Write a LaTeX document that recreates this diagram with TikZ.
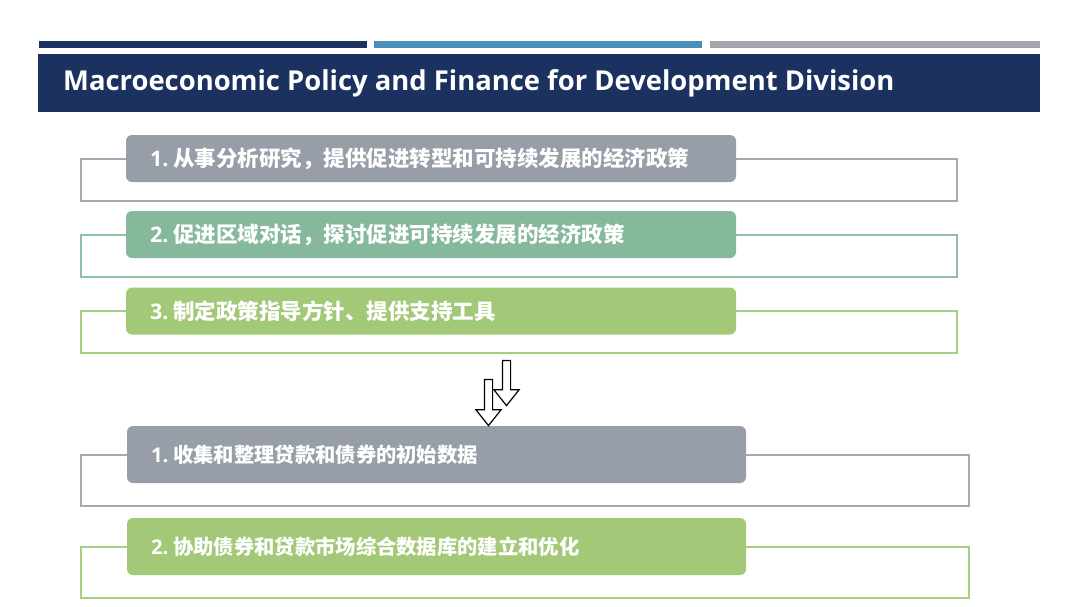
\documentclass[tikz,border=0pt]{standalone}
\usepackage{fontspec}
\setmainfont{Open Sans}
\newfontfamily\cjk{Noto Sans CJK SC}
\usetikzlibrary{shapes.arrows}
\definecolor{navy}{HTML}{1B3160}
\definecolor{steel}{HTML}{4A8FBB}
\definecolor{bargray}{HTML}{A3A6AB}
\definecolor{pillgray}{HTML}{979EA8}
\definecolor{pillteal}{HTML}{86B99B}
\definecolor{pilllime}{HTML}{A3C878}
\definecolor{linegray}{HTML}{A3AAB3}
\definecolor{lineteal}{HTML}{8EC1A2}
\definecolor{linelime}{HTML}{A9CD82}
\newcommand{\itemno}[1]{{\normalfont\bfseries #1}\hspace{5pt}}
\begin{document}
\begin{tikzpicture}[x=1pt, y=-1pt, inner sep=0pt]
    \tikzstyle{bar_style} = [draw=none, anchor=north west, minimum height=7pt]
    \tikzstyle{pill_style} = [rounded corners=6pt, anchor=center, inner xsep=24pt, align=left,
                              text=white, font=\cjk\bfseries\fontsize{21.5}{24}\selectfont]
    \tikzstyle{pill_small} = [pill_style, font=\cjk\bfseries\fontsize{20.3}{24}\selectfont]
    \tikzstyle{frame_style} = [line width=2pt]
    \tikzstyle{arrow_style} = [single arrow, draw=black, fill=white, line width=1.2pt, rotate=-90,
                               minimum height=45pt, minimum width=24pt, inner sep=3.5pt,
                               single arrow head extend=8.5pt, single arrow tip angle=77]
    \useasboundingbox (0,0) rectangle (1080,606);
    \fill[white] (0,0) rectangle (1080,606);

    % header
    \node[bar_style, fill=navy, minimum width=328pt] (bar1) at (39,41) {};
    \node[bar_style, fill=steel, minimum width=328pt] (bar2) at (374,41) {};
    \node[bar_style, fill=bargray, minimum width=330pt] (bar3) at (710,41) {};
    \node[fill=navy, anchor=north west, minimum width=1002pt, minimum height=58pt] (title) at (38,54) {};
    \node[anchor=west, text=white, font=\bfseries\fontsize{27.4}{32}\selectfont] (titletext) at (63,83)
        {Macroeconomic Policy and Finance for Development Division};

    % pills
    \node[pill_style, fill=pillgray, text width=562pt, minimum height=47pt] (task1) at (431,158.5)
        {\itemno{1.}从事分析研究，提供促进转型和可持续发展的经济政策};
    \node[pill_style, fill=pillteal, text width=562pt, minimum height=47pt] (task2) at (431,234.5)
        {\itemno{2.}促进区域对话，探讨促进可持续发展的经济政策};
    \node[pill_style, fill=pilllime, text width=562pt, minimum height=47pt] (task3) at (431,311)
        {\itemno{3.}制定政策指导方针、提供支持工具};
    \node[pill_small, fill=pillgray, text width=571pt, minimum height=57pt] (data1) at (436.5,454.5)
        {\itemno{1.}收集和整理贷款和债券的初始数据};
    \node[pill_small, fill=pilllime, text width=571pt, minimum height=57pt] (data2) at (436.5,546.5)
        {\itemno{2.}协助债券和贷款市场综合数据库的建立和优化};

    % frames
    \draw[frame_style, draw=linegray] (task1.west) -- ++(-45,0) -- ++(0,42) -- ++(876,0) -- ++(0,-42) -- (task1.east);
    \draw[frame_style, draw=lineteal] (task2.west) -- ++(-45,0) -- ++(0,42) -- ++(876,0) -- ++(0,-42) -- (task2.east);
    \draw[frame_style, draw=linelime] (task3.west) -- ++(-45,0) -- ++(0,42) -- ++(876,0) -- ++(0,-42) -- (task3.east);
    \draw[frame_style, draw=linegray] (data1.west) -- ++(-46,0) -- ++(0,51) -- ++(888,0) -- ++(0,-51) -- (data1.east);
    \draw[frame_style, draw=linelime] (data2.west) -- ++(-46,0) -- ++(0,51) -- ++(888,0) -- ++(0,-51) -- (data2.east);

    % arrows
    \node[arrow_style] (arrowA) at (506.5,380.5) {};
    \node[arrow_style, minimum height=46pt] (arrowB) at (488.5,400) {};
\end{tikzpicture}
\end{document}
